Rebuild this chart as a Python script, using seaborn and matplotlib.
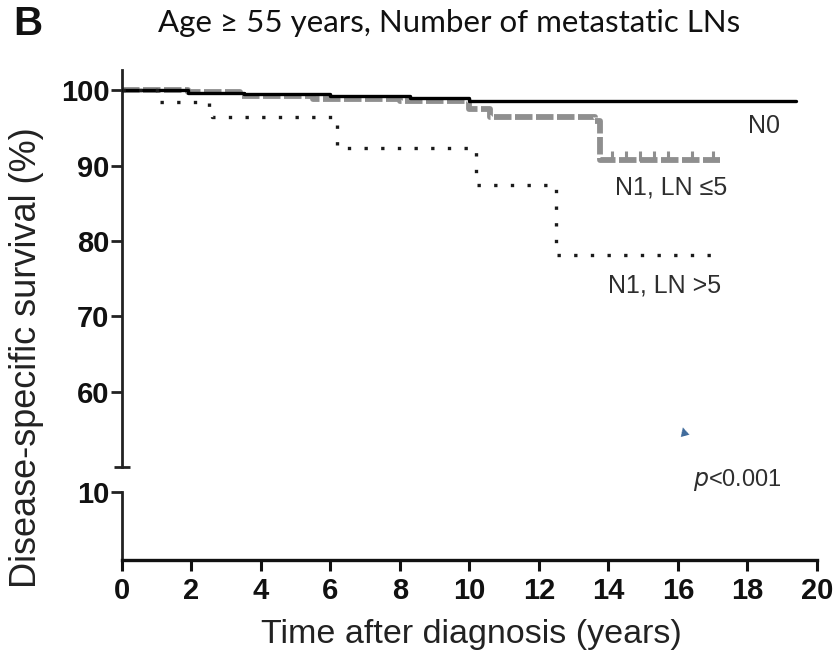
import numpy as np
import pandas as pd
import matplotlib
matplotlib.use("Agg")
import matplotlib.pyplot as plt
import seaborn as sns

# ---- data ----
n0_time = [0.0, 1.9, 3.5, 6.0, 8.3, 10.0, 19.4]
n0_surv = [100.0, 99.7, 99.5, 99.3, 99.0, 98.6, 98.6]

ln5_time = [0.0, 1.9, 3.4, 5.5, 8.0, 10.0, 10.6, 13.6, 13.75, 17.2]
ln5_surv = [100.0, 99.8, 99.2, 98.9, 98.6, 97.5, 96.4, 95.9, 90.8, 90.8]
ln5_censor = [14.1, 14.5, 14.9, 15.3, 15.7, 16.4, 17.0]

gt5_time = [0.0, 1.0, 2.5, 2.6, 6.2, 10.2, 12.5, 17.3]
gt5_surv = [100.0, 98.4, 97.6, 96.4, 92.3, 87.5, 78.1, 78.1]

yticks_upper = [60, 70, 80, 90, 100]
yticks_lower = [10]
xticks = [0, 2, 4, 6, 8, 10, 12, 14, 16, 18, 20]

sns.set_style("ticks")
plt.rcParams['font.family'] = ['Liberation Sans', 'DejaVu Sans']

W, H = 837, 665
fig = plt.figure(figsize=(W / 100, H / 100), dpi=100)

def rect(x0, y_top, x1, y_bot):
    return [x0 / W, 1 - y_bot / H, (x1 - x0) / W, (y_bot - y_top) / H]

ax = fig.add_axes(rect(122, 70, 817, 467))
axl = fig.add_axes(rect(122, 492, 817, 560))

df_n0 = pd.DataFrame({"t": n0_time, "s": n0_surv})
df_5 = pd.DataFrame({"t": ln5_time, "s": ln5_surv})
df_g5 = pd.DataFrame({"t": gt5_time, "s": gt5_surv})

sns.lineplot(data=df_5, x="t", y="s", ax=ax, estimator=None, sort=False,
             drawstyle="steps-post", color="#8f8f8f", lw=4.2,
             linestyle=(0, (3, 0.6)), zorder=2)
sns.lineplot(data=df_n0, x="t", y="s", ax=ax, estimator=None, sort=False,
             drawstyle="steps-post", color="black", lw=2.4, zorder=3)
sns.lineplot(data=df_g5, x="t", y="s", ax=ax, estimator=None, sort=False,
             drawstyle="steps-post", color="#1a1a1a", lw=2.4,
             linestyle=(0, (1, 4.0)), dash_capstyle="butt", zorder=4)
# censor ticks on the LN<5 curve
cens_y = np.interp(ln5_censor, ln5_time, ln5_surv)
ax.plot(ln5_censor, cens_y + 0.45, ls="none", marker="|", ms=7, mew=2.2,
        color="#8f8f8f", zorder=2)

for a in (ax, axl):
    a.set_xlim(0, 20)
    a.set_xlabel("")
    a.set_ylabel("")
    for s in ("top", "right"):
        a.spines[s].set_visible(False)
    a.spines["left"].set_linewidth(2.0)
    a.spines["left"].set_color("#222222")
    a.tick_params(axis="y", length=8, width=2.0, color="#222222", pad=1,
                  labelsize=21)

ax.set_ylim(50, 102.7)
ax.set_yticks(yticks_upper)
ax.spines["bottom"].set_visible(False)
ax.tick_params(axis="x", bottom=False, labelbottom=False)
# small cap at the break of the upper axis
ax.plot([0], [50], marker="_", ms=11, mew=2.0, color="#222222", clip_on=False)

axl.set_ylim(0, 10)
axl.set_yticks(yticks_lower)
axl.set_xticks(xticks)
axl.spines["bottom"].set_linewidth(2.4)
axl.spines["bottom"].set_color("#111111")
axl.tick_params(axis="x", length=8, width=2.2, color="#111111", pad=4,
                labelsize=21)

for a in (ax, axl):
    for lab in a.get_yticklabels() + a.get_xticklabels():
        lab.set_fontweight("bold")
        lab.set_color("#111111")

# labels
fig.text(27 / W, 1 - 358 / H, "Disease-specific survival (%)", rotation=90,
         ha="center", va="center", fontsize=26, color="#222222")
fig.text(471 / W, 1 - 634 / H, "Time after diagnosis (years)",
         ha="center", va="center", fontsize=24.5, color="#222222")
fig.text(13 / W, 1 - 24 / H, "B", ha="left", va="center", fontsize=29,
         fontweight="bold", color="#111111")
fig.text(449 / W, 1 - 23 / H, "Age \u2265 55 years, Number of metastatic LNs",
         ha="center", va="center", fontsize=22.5, color="#111111",
         family=["Lato", "DejaVu Sans"])

fig.text(748 / W, 1 - 126 / H, "N0", ha="left", va="center", fontsize=18,
         color="#2e2e2e")
fig.text(615 / W, 1 - 187 / H, "N1, LN \u22645", ha="left", va="center",
         fontsize=18, color="#2e2e2e")
fig.text(608 / W, 1 - 285 / H, "N1, LN >5", ha="left", va="center",
         fontsize=18, color="#2e2e2e")
fig.text(693 / W, 1 - 480 / H, "$\\it{p}$<0.001", ha="left", va="center",
         fontsize=17, color="#2e2e2e")

# small blue mark present in the reference
fig.text(684 / W, 1 - 431 / H, "\u25B2", ha="center", va="center",
         fontsize=11, color="#3e6a9b", rotation=15)

fig.savefig("out.png", dpi=100)
